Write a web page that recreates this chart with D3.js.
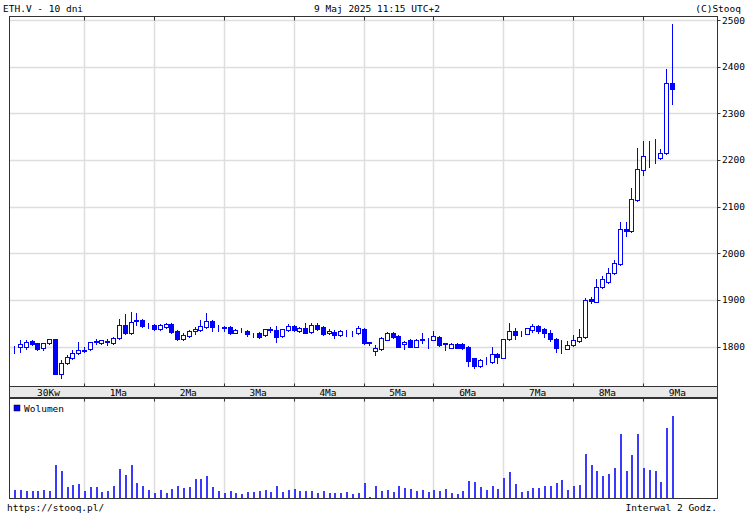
<!DOCTYPE html>
<html><head><meta charset="utf-8">
<script src="https://cdn.jsdelivr.net/npm/d3@7"></script>
<style>body{margin:0;background:#fff}svg{display:block}text{font-family:"DejaVu Sans Mono",monospace;font-size:9.5px;fill:#000}</style>
</head><body>
<script>
const open  = [1800,1800,1798,1812,1807,1796,1807,1816,1742,1764,1775,1786,1793,1794,1810,1807,1811,1808,1818,1847,1828,1856,1857,1845,1846,1838,1842,1849,1833,1816,1822,1833,1836,1842,1855,1842,1839,1842,1830,1836,1834,1827,1830,1825,1837,1835,1823,1836,1843,1834,1840,1831,1846,1841,1829,1831,1825,1830,1830,1828,1838,1809,1790,1794,1815,1828,1823,1805,1815,1800,1815,1817,1815,1820,1807,1797,1806,1806,1800,1775,1759,1771,1767,1784,1776,1816,1834,1828,1827,1835,1845,1837,1828,1817,1798,1795,1803,1812,1821,1901,1896,1928,1939,1958,1977,2052,2047,2115,2178,2207,2206,2205,2214,2364];
const high  = [1801,1815,1815,1815,1808,1808,1817,1817,1771,1782,1792,1810,1799,1810,1816,1815,1816,1820,1860,1869,1875,1871,1860,1851,1849,1849,1851,1851,1835,1828,1835,1842,1857,1871,1857,1847,1843,1844,1838,1840,1835,1830,1832,1838,1842,1845,1838,1848,1846,1842,1850,1850,1850,1843,1837,1835,1836,1835,1833,1843,1840,1809,1803,1821,1832,1831,1825,1812,1816,1816,1828,1819,1833,1822,1808,1807,1807,1808,1801,1776,1773,1778,1798,1786,1817,1850,1839,1834,1840,1848,1847,1839,1836,1818,1814,1812,1825,1837,1903,1907,1944,1951,1968,1985,2067,2066,2139,2226,2241,2241,2244,2223,2395,2491];
const low   = [1787,1789,1795,1803,1793,1792,1806,1740,1732,1763,1773,1783,1789,1792,1805,1805,1803,1806,1816,1826,1827,1846,1841,1839,1836,1836,1840,1830,1815,1814,1821,1827,1834,1840,1834,1834,1833,1826,1828,1832,1823,1820,1818,1823,1832,1809,1821,1834,1834,1832,1828,1829,1835,1824,1826,1819,1823,1823,1823,1827,1805,1803,1782,1792,1814,1818,1798,1794,1798,1799,1807,1797,1813,1801,1793,1796,1796,1795,1758,1753,1757,1762,1765,1765,1775,1814,1816,1823,1826,1832,1830,1821,1812,1788,1787,1794,1802,1810,1819,1893,1895,1926,1937,1956,1975,2037,2045,2112,2167,2185,2194,2202,2212,2319];
const close = [1800,1805,1810,1805,1795,1807,1816,1742,1764,1777,1787,1792,1791,1809,1811,1813,1810,1819,1846,1828,1853,1855,1843,1844,1838,1846,1849,1832,1817,1824,1834,1838,1844,1855,1841,1841,1842,1828,1836,1835,1826,1826,1821,1837,1836,1821,1837,1844,1836,1840,1830,1846,1838,1826,1833,1825,1834,1830,1829,1839,1807,1808,1797,1819,1828,1821,1800,1809,1800,1815,1816,1817,1822,1803,1806,1806,1797,1797,1769,1759,1772,1771,1784,1777,1816,1834,1825,1828,1839,1845,1834,1828,1816,1796,1798,1803,1814,1821,1900,1897,1928,1944,1958,1980,2051,2048,2117,2180,2209,2207,2206,2215,2365,2353];
const volume = [8.3,8.3,7.3,7.3,7.3,8.3,7.3,33.3,26.7,11,13,14,7.3,11,11,6.3,7.3,12,28.7,23.3,33.3,15.3,12,8.3,5.3,8.3,5.3,9,12,10,11,18.7,18.7,22.3,11,7.3,5.3,7.3,5.3,3.7,6.3,6.3,7.3,8.3,6.3,12,6.3,8.3,9.3,7.3,7.3,7.3,5.3,7.3,5.3,5.3,5.3,6.3,3.7,5.3,14.7,1,12,7.3,8.3,6.3,12,10,9,7.3,8.3,6.3,8.3,7.3,9,5.3,4.3,7.3,16.7,15.7,11,8.3,12,9,20.3,25.7,13.7,6.3,7.3,10,10,12,12,14.7,18.3,8.3,12,13,44.3,33.3,26.7,22.3,24,29.7,64,26.7,43.3,64,29.7,27.7,26.7,15.7,70.3,81.7];
const dayLabels = ["30Kw","1Ma","2Ma","3Ma","4Ma","5Ma","6Ma","7Ma","8Ma","9Ma"];
const priceTicks = [1800,1900,2000,2100,2200,2300,2400,2500];
const candlesPerDay = 12;

const W = 750, H = 522;
const L = 9.5, R = 717.5, T = 16.5, B = 386.5;     // main panel
const bandB = 397.5, VT = 398.5, VB = 498.5;      // band & volume panel
const blue = "#0000ff";

const svg = d3.select("body").append("svg").attr("width", W).attr("height", H);
const x = d3.scaleLinear().domain([-0.8, 120.8]).range([L, R]);
const y = d3.scaleLinear().domain([1800, 2500]).range([346.5, 20]);
const yv = d3.scaleLinear().domain([0, 99]).range([VB - 0.5, VT + 0.5]);
const px = i => Math.round(x(i)) + 0.5;

const idx = d3.range(open.length);
const dayIdx = d3.range(1, dayLabels.length).map(d => d * candlesPerDay);

// grid main
const g = svg.append("g");
g.selectAll(".hg").data(priceTicks).join("line")
  .attr("x1", L).attr("x2", R).attr("y1", d => Math.round(y(d)) + 0.5).attr("y2", d => Math.round(y(d)) + 0.5)
  .attr("stroke", "#dedede").attr("stroke-width", 1.5);
g.selectAll(".vg").data(dayIdx).join("line")
  .attr("x1", px).attr("x2", px).attr("y1", T).attr("y2", B)
  .attr("stroke", "#dedede").attr("stroke-width", 1.5);
// grid volume
g.selectAll(".vvg").data(dayIdx).join("line")
  .attr("x1", px).attr("x2", px).attr("y1", VT).attr("y2", VB)
  .attr("stroke", "#dedede").attr("stroke-width", 1.5);

// band
svg.append("rect").attr("x", L).attr("y", B).attr("width", R - L).attr("height", bandB - B)
  .attr("fill", "#e9e9e9").attr("stroke", "#333");

// candles
const c = svg.append("g").attr("shape-rendering", "crispEdges");
c.selectAll(".wick").data(idx).join("line")
  .attr("x1", px).attr("x2", px)
  .attr("y1", i => Math.round(y(high[i]))).attr("y2", i => Math.round(y(low[i])) + 1)
  .attr("stroke", blue).attr("stroke-width", 1);
c.selectAll(".body").data(idx).join("rect")
  .attr("x", i => px(i) - 2).attr("width", 4)
  .attr("y", i => Math.round(y(Math.max(open[i], close[i]))) + 0.5)
  .attr("height", i => Math.max(0, Math.round(y(Math.min(open[i], close[i]))) - Math.round(y(Math.max(open[i], close[i])))))
  .attr("fill", i => close[i] >= open[i] ? "#fff" : blue)
  .attr("stroke", blue).attr("stroke-width", 1);

// volume bars
c.selectAll(".vol").data(idx).join("rect")
  .attr("x", i => Math.round(x(i)) - 0.5).attr("width", 2)
  .attr("y", i => Math.round(yv(volume[i])))
  .attr("height", i => Math.round(yv(0)) - Math.round(yv(volume[i])))
  .attr("fill", "#3a3aff");

// frames
const f = svg.append("g").attr("fill", "none").attr("stroke", "#333").attr("stroke-width", 1);
f.append("rect").attr("x", L).attr("y", T).attr("width", R - L).attr("height", B - T);
f.append("rect").attr("x", L).attr("y", VT).attr("width", R - L).attr("height", VB - VT);
// ticks on frames at day boundaries
f.selectAll(".tt").data(dayIdx).join("line").attr("x1", px).attr("x2", px).attr("y1", T).attr("y2", T + 4);
f.selectAll(".bt").data(dayIdx).join("line").attr("x1", px).attr("x2", px).attr("y1", B - 3).attr("y2", B);
f.selectAll(".vt").data(dayIdx).join("line").attr("x1", px).attr("x2", px).attr("y1", VT).attr("y2", VT + 3);
// right axis ticks
f.selectAll(".rt").data(priceTicks).join("line")
  .attr("x1", R).attr("x2", R + 3).attr("y1", d => Math.round(y(d)) + 0.5).attr("y2", d => Math.round(y(d)) + 0.5);

// right axis labels
svg.append("g").selectAll("text").data(priceTicks).join("text")
  .attr("x", R + 4.5).attr("y", d => y(d) + 3.5).text(d => d);

// day labels
svg.append("g").selectAll("text").data(dayLabels).join("text")
  .attr("x", (d, k) => x(k * candlesPerDay + 5.9)).attr("y", 395.5).attr("text-anchor", "middle").text(d => d);

// legend
svg.append("rect").attr("x", 14).attr("y", 405).attr("width", 6).attr("height", 6).attr("fill", blue).attr("stroke", "#000").attr("stroke-width", 0.5);
svg.append("text").attr("x", 24).attr("y", 411.5).text("Wolumen");

// titles
svg.append("text").attr("x", 3).attr("y", 11.5).text("ETH.V - 10 dni");
svg.append("text").attr("x", 377).attr("y", 11.5).attr("text-anchor", "middle").text("9 Maj 2025 11:15 UTC+2");
svg.append("text").attr("x", 741).attr("y", 11.5).attr("text-anchor", "end").text("(C)Stooq");
svg.append("text").attr("x", 7).attr("y", 510.5).text("https://stooq.pl/");
svg.append("text").attr("x", 717).attr("y", 510.5).attr("text-anchor", "end").text("Interwal 2 Godz.");
</script>
</body></html>
